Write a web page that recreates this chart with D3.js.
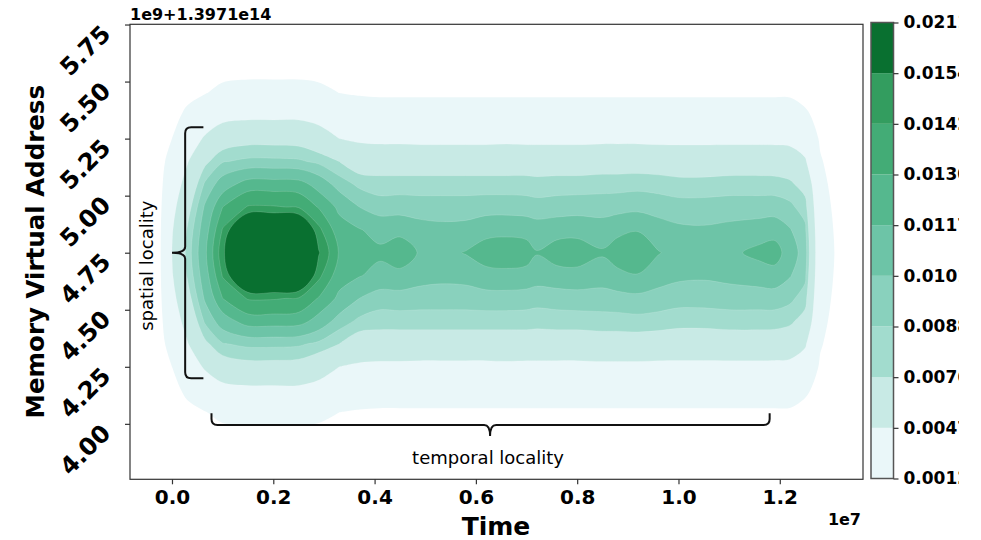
<!DOCTYPE html>
<html>
<head>
<meta charset="utf-8">
<script src="https://cdn.jsdelivr.net/npm/d3@7"></script>
<style>
  body { margin: 0; background: #fff; overflow: hidden; }
  svg { display: block; font-family: "DejaVu Sans", sans-serif; }
</style>
</head>
<body>
<script>
// Define SVG area dimensions
const svgWidth = 981;
const svgHeight = 540;

// Plot area and colorbar boxes
const plot = { left: 130, right: 863, top: 24.3, bottom: 479.3 };
const bar = { left: 871, width: 22.5, top: 22.5, bottom: 478.5 };

// Contour levels, also the colorbar boundaries
const levels = [0.0012, 0.0047, 0.0076, 0.0088, 0.0101, 0.0117, 0.0130, 0.0142, 0.0154, 0.0211];

// Tick labels (time in 1e7, address in 1e9 + 1.3971e14)
const timeTicks = [0.0, 0.2, 0.4, 0.6, 0.8, 1.0, 1.2];
const addressTicks = [4.00, 4.25, 4.50, 4.75, 5.00, 5.25, 5.50, 5.75];
const timeOffsetLabel = "1e7";
const addressOffsetLabel = "1e9+1.3971e14";

// Density: one column per grid time,
// values at each distance from the centre address (the map is symmetric about it)
const centreAddress = 4.75;
const addressOffsets = [0, 0.1, 0.2, 0.3, 0.4, 0.5, 0.6, 0.7, 0.8, 0.9];
const gridTimes = [-0.03, 0.00, 0.03, 0.065, 0.10, 0.15, 0.20, 0.25, 0.29, 0.33, 0.37, 0.41,
  0.45, 0.49, 0.53, 0.58, 0.62, 0.66, 0.70, 0.72, 0.76, 0.80, 0.85, 0.88, 0.92, 0.96,
  1.00, 1.05, 1.10, 1.16, 1.19, 1.22, 1.25, 1.28, 1.31, 1.34];
const densityByTime = [
  [0, 0, 0, 0, 0, 0, 0, 0, 0, 0],
  [0.0047, 0.0045, 0.0039, 0.0031, 0.0022, 0.0012, 0.0005, 0.0001, 0, 0],
  [0.0080, 0.0077, 0.0068, 0.0057, 0.0045, 0.0031, 0.0017, 0.0006, 0.0001, 0],
  [0.0114, 0.0110, 0.0103, 0.0090, 0.0072, 0.0050, 0.0030, 0.0011, 0.0003, 0],
  [0.0150, 0.0143, 0.0130, 0.0109, 0.0087, 0.0065, 0.0039, 0.0018, 0.0005, 0.0001],
  [0.0203, 0.0185, 0.0143, 0.0124, 0.0091, 0.0070, 0.0042, 0.0022, 0.0005, 0.0001],
  [0.0206, 0.0186, 0.0143, 0.0124, 0.0091, 0.0070, 0.0042, 0.0022, 0.0005, 0.0001],
  [0.0200, 0.0182, 0.0141, 0.0123, 0.0090, 0.0069, 0.0042, 0.0022, 0.0005, 0.0001],
  [0.0155, 0.0145, 0.0129, 0.0111, 0.0085, 0.0061, 0.0037, 0.0018, 0.0005, 0.0001],
  [0.0129, 0.0123, 0.0114, 0.0095, 0.0076, 0.0047, 0.0030, 0.0012, 0.0003, 0],
  [0.0122, 0.0118, 0.0101, 0.0085, 0.0065, 0.0043, 0.0026, 0.0010, 0.0002, 0],
  [0.0120, 0.0112, 0.0094, 0.0082, 0.0066, 0.0041, 0.0025, 0.0009, 0.0002, 0],
  [0.0128, 0.0112, 0.0095, 0.0082, 0.0066, 0.0041, 0.0025, 0.0009, 0.0002, 0],
  [0.0115, 0.0107, 0.0094, 0.0082, 0.0066, 0.0040, 0.0025, 0.0009, 0.0002, 0],
  [0.0112, 0.0105, 0.0094, 0.0082, 0.0066, 0.0040, 0.0025, 0.0009, 0.0002, 0],
  [0.0118, 0.0106, 0.0094, 0.0082, 0.0066, 0.0040, 0.0025, 0.0009, 0.0002, 0],
  [0.0126, 0.0111, 0.0095, 0.0082, 0.0066, 0.0040, 0.0025, 0.0009, 0.0002, 0],
  [0.0128, 0.0112, 0.0095, 0.0082, 0.0066, 0.0041, 0.0025, 0.0009, 0.0002, 0],
  [0.0125, 0.0111, 0.0094, 0.0082, 0.0066, 0.0040, 0.0025, 0.0009, 0.0002, 0],
  [0.0118, 0.0108, 0.0093, 0.0081, 0.0066, 0.0040, 0.0025, 0.0009, 0.0002, 0],
  [0.0126, 0.0110, 0.0094, 0.0082, 0.0066, 0.0040, 0.0025, 0.0009, 0.0002, 0],
  [0.0127, 0.0111, 0.0095, 0.0082, 0.0066, 0.0040, 0.0025, 0.0009, 0.0002, 0],
  [0.0119, 0.0108, 0.0095, 0.0083, 0.0067, 0.0041, 0.0025, 0.0009, 0.0002, 0],
  [0.0127, 0.0112, 0.0096, 0.0083, 0.0067, 0.0041, 0.0025, 0.0009, 0.0002, 0],
  [0.0129, 0.0116, 0.0097, 0.0084, 0.0067, 0.0041, 0.0025, 0.0009, 0.0002, 0],
  [0.0118, 0.0108, 0.0095, 0.0083, 0.0066, 0.0040, 0.0025, 0.0009, 0.0002, 0],
  [0.0111, 0.0104, 0.0093, 0.0081, 0.0065, 0.0040, 0.0025, 0.0009, 0.0002, 0],
  [0.0110, 0.0103, 0.0093, 0.0081, 0.0065, 0.0040, 0.0025, 0.0009, 0.0002, 0],
  [0.0113, 0.0105, 0.0094, 0.0082, 0.0066, 0.0040, 0.0025, 0.0009, 0.0002, 0],
  [0.0122, 0.0108, 0.0094, 0.0082, 0.0066, 0.0040, 0.0025, 0.0009, 0.0002, 0],
  [0.0125, 0.0110, 0.0094, 0.0082, 0.0065, 0.0040, 0.0025, 0.0009, 0.0002, 0],
  [0.0108, 0.0102, 0.0091, 0.0079, 0.0063, 0.0039, 0.0024, 0.0009, 0.0002, 0],
  [0.0095, 0.0091, 0.0082, 0.0069, 0.0050, 0.0033, 0.0016, 0.0005, 0.0001, 0],
  [0.0025, 0.0024, 0.0022, 0.0019, 0.0014, 0.0009, 0.0005, 0.0002, 0, 0],
  [0.0011, 0.0010, 0.0008, 0.0005, 0.0003, 0.0001, 0, 0, 0, 0],
  [0, 0, 0, 0, 0, 0, 0, 0, 0, 0]
];

// Annotation braces, in data units
const spatialBrace = { time: 0.026, tipTime: 0.0, endTime: 0.062, from: 4.20, to: 5.30, mid: 4.75, label: "spatial locality" };
const temporalBrace = { address: 3.995, tipAddress: 3.947, endAddress: 4.046, from: 0.078, to: 1.18, mid: 0.628, label: "temporal locality" };

// Select body, append SVG area to it
const svg = d3.select("body")
  .append("svg")
  .attr("width", svgWidth)
  .attr("height", svgHeight);

// Scales for the plot area
const x = d3.scaleLinear().domain([-0.0829, 1.3643]).range([plot.left, plot.right]);
const y = d3.scaleLinear().domain([3.757, 5.751]).range([plot.bottom, plot.top]);

// Colours: BuGn, each band coloured by its mid value
const color = d3.scaleSequential(d3.interpolateBuGn).domain([levels[0], levels[levels.length - 1]]);
const bandColor = i => color((levels[i] + levels[i + 1]) / 2);

// Build the full grid, mirrored about the centre address (top row = highest address)
const nOff = addressOffsets.length;
const rowK = d3.range(2 * nOff - 1).map(j => Math.abs(j - (nOff - 1)));
const rowAddress = rowK.map((k, j) => centreAddress + (j < nOff - 1 ? 1 : -1) * addressOffsets[k]);
const nx = gridTimes.length;
const ny = rowK.length;
const values = new Array(nx * ny);
for (let j = 0; j < ny; j++) {
  for (let i = 0; i < nx; i++) {
    values[j * nx + i] = densityByTime[i][rowK[j]];
  }
}

// Grid coordinates -> data units (sample i sits at i + 0.5 in d3.contours output)
const gx = d3.scaleLinear().domain(gridTimes.map((d, i) => i + 0.5)).range(gridTimes);
const gy = d3.scaleLinear().domain(rowAddress.map((d, j) => j + 0.5)).range(rowAddress);

const contours = d3.contours()
  .size([nx, ny])
  .thresholds(levels.slice(0, -1));
const bands = contours(values);

const ringLine = d3.line()
  .x(p => x(gx(p[0])))
  .y(p => y(gy(p[1])))
  .curve(d3.curveCatmullRomClosed.alpha(0.5));

function bandPath(geo) {
  return geo.coordinates
    .map(poly => poly.map(ring => ringLine(ring.slice(0, -1))).join(""))
    .join("");
}

svg.append("clipPath").attr("id", "plot-clip")
  .append("rect")
  .attr("x", plot.left).attr("y", plot.top)
  .attr("width", plot.right - plot.left).attr("height", plot.bottom - plot.top);

svg.append("g")
  .attr("clip-path", "url(#plot-clip)")
  .selectAll("path")
  .data(bands)
  .join("path")
  .attr("d", bandPath)
  .attr("fill", (d, i) => bandColor(i))
  .attr("fill-rule", "evenodd")
  .attr("stroke", "#fff")
  .attr("stroke-opacity", 0.25)
  .attr("stroke-width", 0.6);

// Braces
const braceG = svg.append("g")
  .attr("fill", "none")
  .attr("stroke", "#111")
  .attr("stroke-width", 2);

function verticalBrace(b) {
  const p = d3.path(), r = 6;
  const xb = x(b.time), xt = x(b.tipTime), xe = x(b.endTime);
  const y0 = y(b.to), y1 = y(b.from), ym = y(b.mid);
  p.moveTo(xe, y0);
  p.lineTo(xb + r, y0);
  p.quadraticCurveTo(xb, y0, xb, y0 + r);
  p.lineTo(xb, ym - r);
  p.quadraticCurveTo(xb, ym, xt, ym);
  p.quadraticCurveTo(xb, ym, xb, ym + r);
  p.lineTo(xb, y1 - r);
  p.quadraticCurveTo(xb, y1, xb + r, y1);
  p.lineTo(xe, y1);
  return p.toString();
}

function horizontalBrace(b) {
  const p = d3.path(), r = 6;
  const yb = y(b.address), yt = y(b.tipAddress), ye = y(b.endAddress);
  const x0 = x(b.from), x1 = x(b.to), xm = x(b.mid);
  p.moveTo(x0, ye);
  p.lineTo(x0, yb - r);
  p.quadraticCurveTo(x0, yb, x0 + r, yb);
  p.lineTo(xm - r, yb);
  p.quadraticCurveTo(xm, yb, xm, yt);
  p.quadraticCurveTo(xm, yb, xm + r, yb);
  p.lineTo(x1 - r, yb);
  p.quadraticCurveTo(x1, yb, x1, yb - r);
  p.lineTo(x1, ye);
  return p.toString();
}

braceG.append("path").attr("d", verticalBrace(spatialBrace));
braceG.append("path").attr("d", horizontalBrace(temporalBrace));

svg.append("text")
  .attr("transform", `translate(${x(spatialBrace.tipTime) - 19},${y(spatialBrace.mid) + 13}) rotate(-90)`)
  .attr("text-anchor", "middle")
  .style("font-size", "18px")
  .text(spatialBrace.label);

svg.append("text")
  .attr("x", x(temporalBrace.mid) - 2)
  .attr("y", y(temporalBrace.tipAddress) + 28)
  .attr("text-anchor", "middle")
  .style("font-size", "18px")
  .text(temporalBrace.label);

// Axes
const xAxis = svg.append("g")
  .attr("transform", `translate(0,${plot.bottom})`)
  .call(d3.axisBottom(x).tickValues(timeTicks).tickFormat(d3.format(".1f")).tickSize(5).tickPadding(5.7));

const yAxis = svg.append("g")
  .attr("transform", `translate(${plot.left},0)`)
  .call(d3.axisLeft(y).tickValues(addressTicks).tickFormat(d3.format(".2f")).tickSize(5));

[xAxis, yAxis].forEach(g => {
  g.attr("font-family", null);
  g.select(".domain").remove();
  g.selectAll(".tick line").attr("stroke", "#333").attr("stroke-width", 1.2);
  g.selectAll(".tick text").attr("fill", "#000").style("font-weight", "bold");
});
xAxis.selectAll(".tick text").style("font-size", "20px");
yAxis.selectAll(".tick text")
  .attr("x", null)
  .attr("dy", "0.35em")
  .attr("transform", "translate(-24,4.4) rotate(-45)")
  .attr("text-anchor", "end")
  .style("font-size", "24px");

// Plot frame
svg.append("rect")
  .attr("x", plot.left).attr("y", plot.top)
  .attr("width", plot.right - plot.left).attr("height", plot.bottom - plot.top)
  .attr("fill", "none")
  .attr("stroke", "#333")
  .attr("stroke-width", 1.2);

// Axis labels and offset texts
svg.append("text")
  .attr("transform", `translate(44,251.7) rotate(-90)`)
  .attr("text-anchor", "middle")
  .style("font-size", "24.5px")
  .style("font-weight", "bold")
  .text("Memory Virtual Address");

svg.append("text")
  .attr("x", 496).attr("y", 535)
  .attr("text-anchor", "middle")
  .style("font-size", "25px")
  .style("font-weight", "bold")
  .text("Time");

svg.append("text")
  .attr("x", plot.left).attr("y", 20)
  .style("font-size", "16px")
  .style("font-weight", "bold")
  .text(addressOffsetLabel);

svg.append("text")
  .attr("x", plot.right - 2).attr("y", 525)
  .attr("text-anchor", "end")
  .style("font-size", "16px")
  .style("font-weight", "bold")
  .text(timeOffsetLabel);

// Colorbar: equal-height bands, one per level interval
const barScale = d3.scaleLinear().domain([0, levels.length - 1]).range([bar.bottom, bar.top]);

svg.append("g")
  .selectAll("rect")
  .data(d3.range(levels.length - 1))
  .join("rect")
  .attr("x", bar.left)
  .attr("y", i => barScale(i + 1))
  .attr("width", bar.width)
  .attr("height", i => barScale(i) - barScale(i + 1))
  .attr("fill", bandColor);

svg.append("rect")
  .attr("x", bar.left).attr("y", bar.top)
  .attr("width", bar.width).attr("height", bar.bottom - bar.top)
  .attr("fill", "none")
  .attr("stroke", "#555")
  .attr("stroke-width", 1.5);

// The figure is cut off on the right, so the colorbar labels are clipped
svg.append("clipPath").attr("id", "fig-clip")
  .append("rect").attr("x", -1000).attr("y", -100).attr("width", 1959 - bar.left - bar.width).attr("height", svgHeight + 200);

const barAxis = svg.append("g")
  .attr("transform", `translate(${bar.left + bar.width},0)`)
  .attr("clip-path", "url(#fig-clip)")
  .call(d3.axisRight(barScale)
    .tickValues(d3.range(levels.length))
    .tickFormat(i => levels[i].toFixed(4))
    .tickSize(5)
    .tickPadding(5));
barAxis.attr("font-family", null);
barAxis.select(".domain").remove();
barAxis.selectAll(".tick line").attr("stroke", "#333").attr("stroke-width", 1.2);
barAxis.selectAll(".tick text")
  .attr("fill", "#000")
  .style("font-size", "17px")
  .style("font-weight", "bold");
</script>
</body>
</html>
